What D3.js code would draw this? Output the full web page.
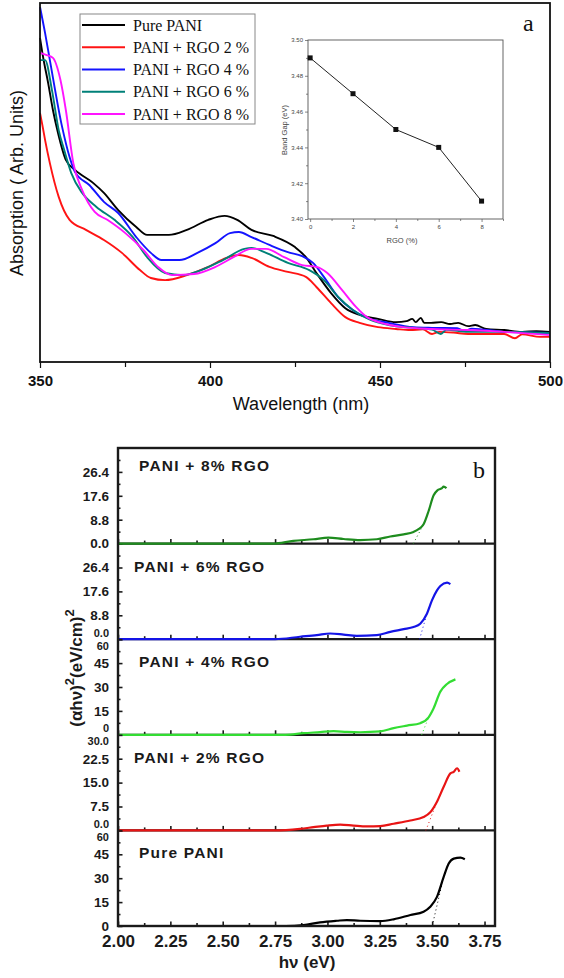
<!DOCTYPE html>
<html>
<head>
<meta charset="utf-8">
<script src="https://cdn.jsdelivr.net/npm/d3@7"></script>
<style>
  body { margin: 0; background: #fff; }
  svg { display: block; }
</style>
</head>
<body>
<div id="chart"></div>
<script>
// ---------- panel a : UV-vis absorption ----------
const wavelengthTicks = [350, 400, 450, 500];
const wavelengthMinor = [375, 425, 475];
const seriesNames = ["Pure PANI", "PANI + RGO 2 %", "PANI + RGO 4 %", "PANI + RGO 6 %", "PANI + RGO 8 %"];
const seriesColors = ["#000000", "#ff1414", "#1414ff", "#008078", "#ff14ff"];

// [wavelength nm, absorption arb. units]
const absPure = [[350,90.3],[350.9,85.0],[352.4,77.7],[353.8,70.2],[355.3,63.8],[357.6,56.3],[360.3,53.5],[365.6,49.9],[368.8,47.1],[373,42.3],[378.3,37.6],[381.5,35.4],[387.9,35.4],[393.2,36.8],[399.5,39.6],[404.3,40.7],[408,39.6],[412.2,36.8],[418.6,35.1],[425,32.0],[428.2,29.2],[431.3,24.8],[435.6,19.2],[439.8,15.0],[444,13.1],[449.4,12.0],[454.7,11.1],[457.8,11.4],[459.5,12.0],[460.5,11.1],[462,12.3],[463,10.9],[465,10.9],[468,11.1],[470.6,10.6],[473,10.9],[475.9,10.0],[478,10.3],[481.2,9.2],[486.5,8.9],[491.8,8.4],[496,8.6],[500,8.4]];
const absRgo2 = [[350,69.4],[350.7,66.0],[351.5,61.8],[352.9,55.4],[355.5,46.0],[358.7,39.6],[363.5,36.8],[368.8,34.0],[374.1,30.4],[379.4,25.6],[382.6,23.4],[386.8,22.8],[393.2,24.2],[399.5,26.5],[404.8,29.0],[408.5,29.8],[412.2,29.0],[417.5,26.5],[422.9,25.1],[428.2,23.7],[431.3,20.9],[435.6,16.4],[439.8,12.5],[444,10.9],[449.4,9.7],[454.7,9.2],[458.9,8.9],[462.6,9.1],[465.3,7.8],[467.4,8.4],[471.6,8.2],[475.9,7.8],[486.5,7.8],[489.7,6.6],[491.8,7.7],[497.1,7.0],[500,7.0]];
const absRgo4 = [[350,98.9],[351.5,91.6],[352.9,84.1],[356.5,65.5],[358.7,57.1],[360.3,52.9],[364.5,49.3],[368.8,44.6],[373,41.5],[378.3,34.8],[382.6,30.4],[385.7,28.4],[391,28.4],[396.3,30.4],[401.6,33.1],[405.9,35.9],[408.5,36.2],[412.2,34.8],[417.5,32.6],[422.9,30.6],[427.1,29.5],[430.3,27.6],[433.5,23.7],[437.7,18.1],[442,14.5],[446.2,12.3],[452.5,10.9],[459.9,9.7],[465.3,9.5],[472.7,9.4],[474.8,8.6],[477,9.3],[486.5,8.4],[500,8.1]];
const absRgo6 = [[350,84.1],[351.5,84.1],[353.5,75.8],[355.5,64.6],[357.1,59.1],[359.2,52.6],[362.4,47.1],[366.6,43.2],[371.9,39.6],[377.3,34.8],[381.5,29.2],[386.8,24.8],[392.1,24.2],[397.4,25.6],[403.8,28.4],[410.1,31.5],[412.2,31.8],[416.5,30.4],[422.9,27.6],[429.2,25.6],[433.5,22.8],[437.7,18.1],[442,14.5],[447.2,11.7],[452.5,10.3],[459.9,9.5],[465.3,9.0],[467.9,7.8],[469.5,9.0],[475.9,8.4],[486.5,8.4],[500,8.1]];
const absRgo8 = [[350,86.1],[352,85.5],[353.8,84.7],[356,78.6],[357.6,70.2],[359.8,55.4],[362.4,47.9],[366.1,41.8],[369.8,39.6],[375.1,35.9],[380.4,31.2],[384.7,26.5],[388.9,24.2],[395.3,24.5],[401.6,26.5],[406.9,29.2],[412.2,31.5],[416.5,31.5],[421.8,29.2],[427.1,27.0],[431.3,26.5],[434.5,24.8],[438.8,20.1],[443,15.3],[446.2,12.5],[450.4,10.9],[456.8,9.7],[465.3,9.2],[475.9,8.9],[486.5,8.4],[500,7.5]];
const absSeries = [absPure, absRgo2, absRgo4, absRgo6, absRgo8];

// inset: band gap vs RGO content
const rgoPercent = [0, 2, 4, 6, 8];
const bandGap = [3.49, 3.47, 3.45, 3.44, 3.41];
const insetYTicks = [3.40, 3.42, 3.44, 3.46, 3.48, 3.50];
const insetXTicks = [0, 2, 4, 6, 8];

// ---------- panel b : Tauc plots ----------
const hvTicks = [2.00, 2.25, 2.50, 2.75, 3.00, 3.25, 3.50, 3.75];
const hvMinor = [2.125, 2.375, 2.625, 2.875, 3.125, 3.375, 3.625];
const taucNames = ["PANI + 8% RGO", "PANI + 6% RGO", "PANI + 4% RGO", "PANI + 2% RGO", "Pure PANI"];
const taucColors = ["#1e8c1e", "#1414e6", "#33dd33", "#e81414", "#000000"];
const taucMax = [35.2, 35.2, 60, 30, 60];
const taucTicks = [[0, 8.8, 17.6, 26.4], [0, 8.8, 17.6, 26.4], [0, 15, 30, 45, 60], [0, 7.5, 15, 22.5, 30], [0, 15, 30, 45, 60]];
const taucMinor = [[4.4, 13.2, 22, 30.8], [4.4, 13.2, 22, 30.8], [7.5, 22.5, 37.5, 52.5], [3.75, 11.25, 18.75, 26.25], [7.5, 22.5, 37.5, 52.5]];
const taucFormat = [".1f", ".1f", "d", ".1f", "d"];

// [hv eV, (alpha h nu)^2]
const tauc8 = [[2.0,0],[2.74,0],[2.837,1.0],[2.933,1.6],[3.005,2.2],[3.077,1.7],[3.156,1.3],[3.236,1.6],[3.30,2.6],[3.364,3.4],[3.411,4.3],[3.435,5.3],[3.459,7.1],[3.483,12.0],[3.507,17.8],[3.525,19.6],[3.545,20.3],[3.555,21.0],[3.568,20.4]];
const tauc6 = [[2.0,0],[2.75,0],[2.869,0.9],[2.949,1.5],[3.013,2.1],[3.077,1.7],[3.14,1.2],[3.236,1.5],[3.30,2.7],[3.364,3.7],[3.411,4.5],[3.443,5.7],[3.475,9.4],[3.499,14.3],[3.523,18.0],[3.539,19.6],[3.571,20.8],[3.587,20.3]];
const tauc4 = [[2.0,0],[2.80,0],[2.885,1.0],[2.965,1.7],[3.029,2.3],[3.093,1.8],[3.156,1.6],[3.252,2.1],[3.316,4.2],[3.38,5.8],[3.443,7.3],[3.483,11.0],[3.507,16.7],[3.539,27.1],[3.571,31.9],[3.611,34.8]];
const tauc2 = [[2.0,0],[2.75,0],[2.869,0.5],[2.933,1.0],[2.997,1.5],[3.061,1.8],[3.124,1.5],[3.188,1.25],[3.252,1.35],[3.316,2.1],[3.396,3.1],[3.459,4.2],[3.491,5.7],[3.523,9.0],[3.555,13.7],[3.587,17.9],[3.603,18.4],[3.619,19.5],[3.63,18.4]];
const taucPure = [[2.0,0],[2.80,0],[2.885,0.6],[2.965,2.3],[3.045,3.3],[3.093,3.75],[3.156,3.3],[3.252,3.1],[3.316,4.2],[3.396,6.9],[3.459,9.0],[3.491,12.1],[3.523,18.3],[3.555,30.8],[3.579,39.2],[3.603,42.3],[3.635,42.9],[3.656,41.9]];
const taucSeries = [tauc8, tauc6, tauc4, tauc2, taucPure];
const taucGap = [3.41, 3.44, 3.45, 3.47, 3.50];

const W = 564, H = 978;
const sans = "'Liberation Sans', Arial, sans-serif";
const serif = "'Liberation Serif', 'Times New Roman', serif";

const svg = d3.select("#chart").append("svg")
  .attr("width", W)
  .attr("height", H)
  .style("background", "#fff");

// ================= panel a =================
const xA = d3.scaleLinear().domain([350, 500]).range([40, 550]);
const yA = d3.scaleLinear().domain([0, 100]).range([362, 3]);

const gA = svg.append("g");

const lineA = d3.line()
  .x(d => xA(d[0]))
  .y(d => yA(d[1]))
  .curve(d3.curveMonotoneX);

gA.selectAll("path.abs")
  .data(absSeries)
  .enter()
  .append("path")
  .attr("class", "abs")
  .attr("d", lineA)
  .attr("fill", "none")
  .attr("stroke", (d, i) => seriesColors[i])
  .attr("stroke-width", 1.9)
  .attr("stroke-linejoin", "round");

gA.append("rect")
  .attr("x", 40).attr("y", 3)
  .attr("width", 510).attr("height", 359)
  .attr("fill", "none")
  .attr("stroke", "#111")
  .attr("stroke-width", 1.8);

const xAxisA = d3.axisBottom(xA).tickValues(wavelengthTicks).tickSize(6).tickPadding(7).tickFormat(d3.format("d"));
const xAxisAg = gA.append("g")
  .attr("transform", "translate(0,362)")
  .call(xAxisA);
xAxisAg.select(".domain").remove();
xAxisAg.selectAll("line").attr("stroke", "#111").attr("stroke-width", 1.2);
xAxisAg.selectAll("text")
  .attr("font-family", sans)
  .attr("font-size", 15)
  .attr("font-weight", "bold")
  .attr("fill", "#111");

const xMinorA = gA.append("g")
  .attr("transform", "translate(0,362)")
  .call(d3.axisBottom(xA).tickValues(wavelengthMinor).tickSize(5).tickFormat(""));
xMinorA.select(".domain").remove();
xMinorA.selectAll("line").attr("stroke", "#111").attr("stroke-width", 1.2);

gA.append("text")
  .attr("x", 301).attr("y", 410)
  .attr("text-anchor", "middle")
  .attr("font-family", sans)
  .attr("font-size", 18)
  .attr("fill", "#111")
  .text("Wavelength (nm)");

gA.append("text")
  .attr("transform", "translate(23,183) rotate(-90)")
  .attr("text-anchor", "middle")
  .attr("font-family", sans)
  .attr("font-size", 18)
  .attr("fill", "#111")
  .text("Absorption ( Arb. Units)");

gA.append("text")
  .attr("x", 523).attr("y", 31)
  .attr("font-family", serif)
  .attr("font-size", 24)
  .attr("fill", "#111")
  .text("a");

// legend
const legend = gA.append("g");
legend.append("rect")
  .attr("x", 80).attr("y", 14)
  .attr("width", 175).attr("height", 110)
  .attr("fill", "#fff")
  .attr("stroke", "#888")
  .attr("stroke-width", 1);
const legRow = d3.scaleLinear().domain([0, 4]).range([25, 114]);
seriesNames.forEach((name, i) => {
  legend.append("line")
    .attr("x1", 82).attr("x2", 125)
    .attr("y1", legRow(i)).attr("y2", legRow(i))
    .attr("stroke", seriesColors[i])
    .attr("stroke-width", 2);
  legend.append("text")
    .attr("x", 133).attr("y", legRow(i) + 5.5)
    .attr("font-family", serif)
    .attr("font-size", 16)
    .attr("fill", "#111")
    .text(name);
});

// inset
const xIn = d3.scaleLinear().domain([-0.1, 9]).range([308, 503]);
const yIn = d3.scaleLinear().domain([3.40, 3.50]).range([219, 40]);
const gIn = svg.append("g");

gIn.append("rect")
  .attr("x", 308).attr("y", 40)
  .attr("width", 195).attr("height", 179)
  .attr("fill", "#fff")
  .attr("stroke", "#555")
  .attr("stroke-width", 0.9);

const inX = gIn.append("g").attr("transform", "translate(0,219)")
  .call(d3.axisBottom(xIn).tickValues(insetXTicks).tickSize(3).tickPadding(3).tickFormat(d3.format("d")));
const inXm = gIn.append("g").attr("transform", "translate(0,219)")
  .call(d3.axisBottom(xIn).tickValues([1, 3, 5, 7, 9]).tickSize(2).tickFormat(""));
const inY = gIn.append("g").attr("transform", "translate(308,0)")
  .call(d3.axisLeft(yIn).tickValues(insetYTicks).tickSize(3).tickPadding(2).tickFormat(d3.format(".2f")));
const inYm = gIn.append("g").attr("transform", "translate(308,0)")
  .call(d3.axisLeft(yIn).tickValues([3.41, 3.43, 3.45, 3.47, 3.49]).tickSize(2).tickFormat(""));
[inX, inXm, inY, inYm].forEach(g => {
  g.select(".domain").remove();
  g.selectAll("line").attr("stroke", "#555").attr("stroke-width", 0.7);
  g.selectAll("text").attr("font-family", sans).attr("font-size", 6).attr("fill", "#444");
});

gIn.append("path")
  .datum(rgoPercent.map((r, i) => [r, bandGap[i]]))
  .attr("d", d3.line().x(d => xIn(d[0])).y(d => yIn(d[1])))
  .attr("fill", "none")
  .attr("stroke", "#222")
  .attr("stroke-width", 1);

gIn.selectAll("rect.mark")
  .data(rgoPercent)
  .enter()
  .append("rect")
  .attr("class", "mark")
  .attr("x", (d) => xIn(d) - 2.5)
  .attr("y", (d, i) => yIn(bandGap[i]) - 2.5)
  .attr("width", 5).attr("height", 5)
  .attr("fill", "#111");

gIn.append("text")
  .attr("transform", "translate(287,130) rotate(-90)")
  .attr("text-anchor", "middle")
  .attr("font-family", sans)
  .attr("font-size", 7.5)
  .attr("fill", "#444")
  .text("Band Gap (eV)");

gIn.append("text")
  .attr("x", 402).attr("y", 243)
  .attr("text-anchor", "middle")
  .attr("font-family", sans)
  .attr("font-size", 7.5)
  .attr("fill", "#444")
  .text("RGO (%)");

// ================= panel b =================
const xB = d3.scaleLinear().domain([2.0, 3.8]).range([118, 495]);
const panelTop = 448, panelH = 95.6;
const gB = svg.append("g");
const zeroLabels = [], topLabels = [];

taucSeries.forEach((series, i) => {
  const top = panelTop + i * panelH;
  const bottom = top + panelH;
  const y = d3.scaleLinear().domain([0, taucMax[i]]).range([bottom, top]);
  const g = gB.append("g");

  // y axis (ticks pointing inward)
  const ya = g.append("g").attr("transform", "translate(118,0)")
    .call(d3.axisLeft(y).tickValues(taucTicks[i]).tickSize(-4.5).tickPadding(9).tickFormat(d3.format(taucFormat[i])));
  const ym = g.append("g").attr("transform", "translate(118,0)")
    .call(d3.axisLeft(y).tickValues(taucMinor[i]).tickSize(-2.5).tickFormat(""));
  // x axis ticks along the bottom of each strip
  const xa = g.append("g").attr("transform", "translate(0," + bottom + ")")
    .call(d3.axisBottom(xB).tickValues(hvTicks).tickSize(-4.5).tickPadding(9)
      .tickFormat(i === taucSeries.length - 1 ? d3.format(".2f") : ""));
  const xm = g.append("g").attr("transform", "translate(0," + bottom + ")")
    .call(d3.axisBottom(xB).tickValues(hvMinor).tickSize(-3).tickFormat(""));
  [ya, ym, xa, xm].forEach(a => {
    a.select(".domain").remove();
    a.selectAll("line").attr("stroke", "#1a1a1a").attr("stroke-width", 1.6);
  });
  ya.selectAll("text")
    .attr("font-family", sans).attr("font-size", 13.5).attr("font-weight", "bold").attr("fill", "#1a1a1a");
  xa.selectAll("text")
    .attr("font-family", sans).attr("font-size", 17).attr("font-weight", "bold").attr("fill", "#1a1a1a");

  ya.selectAll(".tick").each(function(d) {
    if (d === 0) zeroLabels[i] = d3.select(this).select("text");
    if (d === taucMax[i]) topLabels[i] = d3.select(this).select("text");
  });

  // strip separator / bottom axis line
  g.append("line")
    .attr("x1", 118).attr("x2", 495)
    .attr("y1", bottom).attr("y2", bottom)
    .attr("stroke", "#1a1a1a")
    .attr("stroke-width", 2.2);

  const line = d3.line()
    .x(d => xB(d[0]))
    .y(d => y(d[1]))
    .curve(d3.curveMonotoneX);

  g.append("path")
    .datum(series)
    .attr("d", line)
    .attr("fill", "none")
    .attr("stroke", taucColors[i])
    .attr("stroke-width", 2.2)
    .attr("stroke-linejoin", "round");

  // dotted extrapolation to the band gap
  const steep = series.filter(d => d[0] > taucGap[i] + 0.03)[0];
  g.append("line")
    .attr("x1", xB(taucGap[i])).attr("y1", y(0))
    .attr("x2", xB(steep[0])).attr("y2", y(steep[1]))
    .attr("stroke", taucColors[i])
    .attr("stroke-width", 1)
    .attr("stroke-dasharray", "1,3");

  g.append("text")
    .attr("x", i % 2 === 1 ? 134 : 139)
    .attr("y", top + (i === 0 ? 23 : 28))
    .attr("font-family", sans)
    .attr("font-size", 15.5)
    .attr("font-weight", "bold")
    .attr("letter-spacing", 1.2)
    .attr("fill", "#1a1a1a")
    .text(taucNames[i]);
});

// where two strips meet, the labels "0" (upper strip) and top value (lower strip)
// share one spot: shrink them a bit and pull them apart so both stay readable
topLabels.forEach((lab, i) => {
  if (!lab || i === 0) return;
  lab.attr("font-size", 11).attr("transform", "translate(0,6.6)");
  zeroLabels[i - 1].attr("font-size", 11).attr("transform", "translate(0,-6.6)");
});

gB.append("rect")
  .attr("x", 118).attr("y", panelTop)
  .attr("width", 377).attr("height", panelH * 5)
  .attr("fill", "none")
  .attr("stroke", "#1a1a1a")
  .attr("stroke-width", 2.4);

gB.append("text")
  .attr("x", 473).attr("y", 478)
  .attr("font-family", serif)
  .attr("font-size", 24)
  .attr("fill", "#111")
  .text("b");

gB.append("text")
  .attr("x", 307).attr("y", 968)
  .attr("text-anchor", "middle")
  .attr("font-family", sans)
  .attr("font-size", 17)
  .attr("font-weight", "bold")
  .attr("fill", "#1a1a1a")
  .text("hν (eV)");

const yLab = gB.append("text")
  .attr("transform", "translate(82,668) rotate(-90)")
  .attr("text-anchor", "middle")
  .attr("font-family", sans)
  .attr("font-size", 17)
  .attr("font-weight", "bold")
  .attr("fill", "#1a1a1a");
yLab.append("tspan").text("(αhν)");
yLab.append("tspan").attr("dy", -8).attr("font-size", 13).text("2");
yLab.append("tspan").attr("dy", 8).text("(eV/cm)");
yLab.append("tspan").attr("dy", -8).attr("font-size", 13).text("2");
</script>
</body>
</html>
